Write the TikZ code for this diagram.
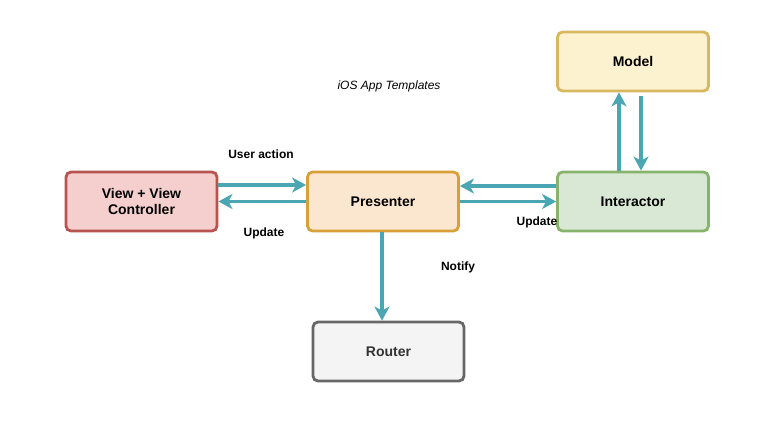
\documentclass[tikz,border=0pt]{standalone}
\usepackage{fontspec}
\setmainfont{Liberation Sans}
\usetikzlibrary{arrows.meta}

\definecolor{redfill}{HTML}{F4CFCD}
\definecolor{redline}{HTML}{B85450}
\definecolor{orangefill}{HTML}{FBE6D0}
\definecolor{orangeline}{HTML}{D9A03A}
\definecolor{greenfill}{HTML}{D8E8D5}
\definecolor{greenline}{HTML}{88B36C}
\definecolor{yellowfill}{HTML}{FDF2CF}
\definecolor{yellowline}{HTML}{D8B85F}
\definecolor{grayfill}{HTML}{F4F4F4}
\definecolor{grayline}{HTML}{676767}
\definecolor{flowcol}{HTML}{4AA6B3}

\tikzset{
  box/.style={draw=#1line, fill=#1fill, line width=2.8pt, rounded corners=5pt,
    minimum width=151pt, minimum height=59pt, align=center,
    font=\fontsize{14}{16}\selectfont\bfseries},
  flow/.style={draw=flowcol, line width=3.2pt, -{Stealth[length=14pt,width=15pt,inset=4pt]}},
  lbl/.style={font=\fontsize{12}{14}\selectfont\bfseries}
}

\begin{document}
\begin{tikzpicture}[x=1pt,y=-1pt]
			\useasboundingbox (0,0) rectangle (768,431);
			\node[box=red] (view) at (141.5,201.5) {View + View\\Controller};
			\node[box=orange] (presenter) at (383,201.5) {Presenter};
			\node[box=green] (interactor) at (633,201.5) {Interactor};
			\node[box=yellow] (model) at (633,61.5) {Model};
			\node[box=gray, text=black!80] (router) at (388.5,351.5) {Router};
			\draw[flow] ([yshift=16.5pt]view.east) -- ([yshift=16.5pt]presenter.west);
			\draw[flow] (presenter.west) -- (view.east);
			\draw[flow] ([yshift=15.5pt]interactor.west) -- ([yshift=15.5pt]presenter.east);
			\draw[flow] (presenter.east) -- (interactor.west);
			\draw[flow] ([xshift=-14pt]interactor.north) -- ([xshift=-14pt]model.south);
			\draw[flow] ([xshift=8pt,yshift=-4pt]model.south) -- ([xshift=8pt]interactor.north);
			\draw[flow] ([xshift=-1pt]presenter.south) -- ([xshift=-6.5pt]router.north);
			\node[lbl] (useraction) at (261,154) {User action};
			\node[lbl] (update1) at (264,233) {Update};
			\node[lbl] (update2) at (537,222) {Update};
			\node[lbl] (notify) at (458,267) {Notify};
			\node[font=\fontsize{12}{14}\selectfont\itshape] (title) at (389,86) {iOS App Templates};
		\end{tikzpicture}
\end{document}
